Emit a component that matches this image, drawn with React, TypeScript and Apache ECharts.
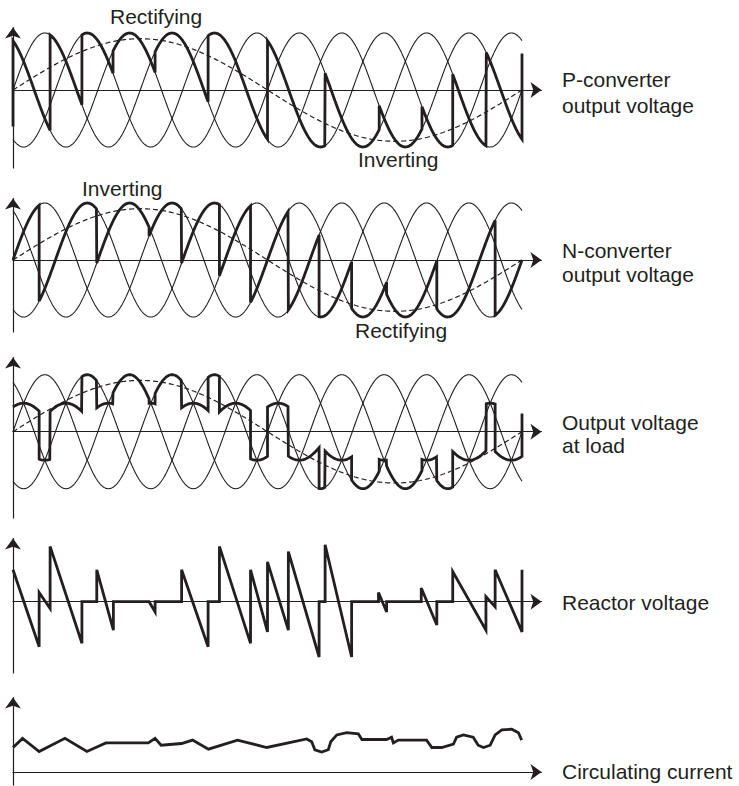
import React, { useEffect, useRef } from 'react';
import * as echarts from 'echarts';

const INK = '#231f20';
const FONT = '"Liberation Sans", Arial, Helvetica, sans-serif';

// ---------------- data ----------------
// x = supply angle in degrees: 4 supply cycles make one output cycle
const supplyEnd = 1440;
const phaseNames = ['a', 'b', 'c'];
const phaseShiftDeg = [0, -120, 120];
const referenceAmplitude = 0.9; // dashed desired output, one cycle across the plot

// P-converter: firing instants (deg) and the phase switched in
const pFiring = [0, 105, 195, 283, 402, 552, 720, 883, 1036, 1157, 1244, 1339];
const pPhase = ['c', 'a', 'b', 'c', 'a', 'b', 'c', 'a', 'b', 'c', 'a', 'b'];
const pStartFrom = -0.64;
const pEndTo = 0.64;

// N-converter: firing instants (deg) and the phase switched in
const nFiring = [0, 74, 237, 385, 477, 584, 672, 779, 866, 958, 1057, 1199, 1364];
const nPhase = ['a', 'b', 'c', 'a', 'b', 'c', 'a', 'b', 'c', 'a', 'b', 'c', 'a'];

// Reactor voltage (drawn as straight segments)
const reactorTheta = [0, 74, 74, 105, 105, 195, 195, 237, 237, 284, 284, 385, 402, 402, 477, 477, 552, 552, 584, 584, 672, 672, 720, 720, 779, 779, 866, 866, 883, 883, 958, 958, 1034, 1034, 1057, 1057, 1155, 1155, 1199, 1199, 1244, 1244, 1338, 1338, 1364, 1364, 1440, 1440];
const reactorValue = [0.56, -0.79, 0.16, -0.12, 0.97, -0.73, 0, 0, 0.56, -0.5, 0, 0, -0.18, 0, 0, 0.56, -0.79, 0, 0, 0.97, -0.73, 0.56, -0.53, 0.7, -0.5, 0.88, -0.97, 0, 0, 1.0, -0.97, 0, 0, 0.16, -0.18, 0, 0, 0.24, -0.41, 0, 0, 0.53, -0.5, 0.09, -0.09, 0.56, -0.53, 0.56];

// Circulating current
const currentTheta = [0, 27, 74, 147, 209, 263, 383, 402, 419, 477, 508, 553, 635, 718, 831, 845, 854, 873, 892, 899, 916, 944, 977, 987, 1057, 1071, 1076, 1090, 1170, 1185, 1213, 1246, 1255, 1274, 1302, 1316, 1331, 1350, 1364, 1383, 1411, 1430, 1439];
const currentValue = [0.43, 0.59, 0.36, 0.59, 0.36, 0.51, 0.51, 0.59, 0.47, 0.5, 0.56, 0.4, 0.56, 0.43, 0.58, 0.53, 0.39, 0.35, 0.39, 0.53, 0.65, 0.69, 0.67, 0.57, 0.57, 0.61, 0.51, 0.56, 0.56, 0.43, 0.43, 0.49, 0.61, 0.65, 0.61, 0.47, 0.43, 0.47, 0.65, 0.74, 0.75, 0.69, 0.56];

// Texts
const sideLabels = [
  ['P-converter', 'output voltage'],
  ['N-converter', 'output voltage'],
  ['Output voltage', 'at load'],
  ['Reactor voltage'],
  ['Circulating current'],
];
const modeLabels = ['Rectifying', 'Inverting', 'Inverting', 'Rectifying'];

// ---------------- layout (pixels) ----------------
const W = 739;
const H = 786;
const PX_PER_UNIT = 57;
const X0 = 13;
const X_DATA_END = 522;
const ARROW = [12, 11];
const X_AXIS_END = 547 - ARROW[1] / 2;
const panels = [
  { tip: 22, zero: 90, bottom: 168 },
  { tip: 193, zero: 260, bottom: 332 },
  { tip: 352, zero: 431.7, bottom: 518 },
  { tip: 533, zero: 601.7, bottom: 673 },
  { tip: 692, zero: 772, bottom: 785 },
];
const sideLabelY = [[79.4, 105.4], [250, 274.4], [422, 445.4], [602.7], [771]];
const modeLabelPos = [[110, 16], [358, 159], [82, 188], [355, 330]];

// ---------------- helpers ----------------
const RAD = Math.PI / 180;
function phaseValue(p: string, th: number) {
  return Math.sin((th + phaseShiftDeg[phaseNames.indexOf(p)]) * RAD);
}
function phaseAt(firing: number[], phases: string[], th: number) {
  let k = 0;
  for (let i = 0; i < firing.length; i++) if (firing[i] <= th) k = i;
  return phases[k];
}
function sinePts(p: string) {
  const out: number[][] = [];
  for (let th = 0; th <= supplyEnd; th += 2) out.push([th, phaseValue(p, th)]);
  return out;
}
function refPts() {
  const out: number[][] = [];
  for (let th = 0; th <= supplyEnd; th += 4) out.push([th, referenceAmplitude * Math.sin((th / 4) * RAD)]);
  return out;
}
function converterPts(firing: number[], phases: string[], startFrom?: number, endTo?: number) {
  const out: number[][] = [];
  if (startFrom !== undefined) out.push([firing[0], startFrom]);
  for (let i = 0; i < firing.length; i++) {
    const t0 = firing[i];
    const t1 = i + 1 < firing.length ? firing[i + 1] : supplyEnd;
    for (let th = t0; th < t1; th += 1) out.push([th, phaseValue(phases[i], th)]);
    out.push([t1, phaseValue(phases[i], t1)]);
  }
  if (endTo !== undefined) out.push([supplyEnd, endTo]);
  return out;
}
function loadPts() {
  const times = Array.from(new Set([...pFiring, ...nFiring])).sort((a, b) => a - b);
  const out: number[][] = [];
  for (let i = 0; i < times.length; i++) {
    const t0 = times[i];
    const t1 = i + 1 < times.length ? times[i + 1] : supplyEnd;
    const pp = phaseAt(pFiring, pPhase, t0);
    const np = phaseAt(nFiring, nPhase, t0);
    const v = (th: number) => (phaseValue(pp, th) + phaseValue(np, th)) / 2;
    for (let th = t0; th < t1; th += 1) out.push([th, v(th)]);
    out.push([t1, v(t1)]);
  }
  out.push([supplyEnd, (pEndTo + phaseValue(phaseAt(nFiring, nPhase, supplyEnd), supplyEnd)) / 2]);
  return out;
}
function zip(xs: number[], ys: number[]) {
  return xs.map((x, i) => [x, ys[i]]);
}

export default function App() {
  const ref = useRef<HTMLDivElement>(null);
  useEffect(() => {
    if (!ref.current) return;
    const chart = echarts.init(ref.current, null, { renderer: 'svg', width: W, height: H });
    const degPerPx = supplyEnd / (X_DATA_END - X0);
    const xMax = (X_AXIS_END - X0) * degPerPx;

    const grids: any[] = [];
    const xAxes: any[] = [];
    const yAxes: any[] = [];
    panels.forEach((p, i) => {
      const top = p.tip + ARROW[1] / 2;
      grids.push({ left: X0, top, width: X_AXIS_END - X0, height: p.bottom - top });
      xAxes.push({
        type: 'value', gridIndex: i, min: 0, max: xMax,
        axisLine: { onZero: true, symbol: ['none', 'arrow'], symbolSize: ARROW, lineStyle: { color: INK, width: 1.2 } },
        axisTick: { show: false }, axisLabel: { show: false }, splitLine: { show: false },
      });
      yAxes.push({
        type: 'value', gridIndex: i,
        min: -(p.bottom - p.zero) / PX_PER_UNIT, max: (p.zero - top) / PX_PER_UNIT,
        axisLine: { show: true, onZero: false, symbol: ['none', 'arrow'], symbolSize: ARROW, lineStyle: { color: INK, width: 1.2 } },
        axisTick: { show: false }, axisLabel: { show: false }, splitLine: { show: false },
      });
    });

    const series: any[] = [];
    const thin = (idx: number) => {
      phaseNames.forEach((ph) => {
        series.push({
          type: 'line', xAxisIndex: idx, yAxisIndex: idx, data: sinePts(ph), showSymbol: false, clip: false,
          lineStyle: { color: INK, width: 1.1 }, z: 2, silent: true,
        });
      });
      series.push({
        type: 'line', xAxisIndex: idx, yAxisIndex: idx, data: refPts(), showSymbol: false, clip: false,
        lineStyle: { color: INK, width: 1.2, type: [5, 3] }, z: 3, silent: true,
      });
    };
    const thick = (idx: number, data: number[][]) => {
      series.push({
        type: 'line', xAxisIndex: idx, yAxisIndex: idx, data, showSymbol: false, clip: false,
        lineStyle: { color: INK, width: 2.8, join: 'miter', miterLimit: 4 }, z: 4, silent: true,
      });
    };
    thin(0);
    thick(0, converterPts(pFiring, pPhase, pStartFrom, pEndTo));
    thin(1);
    thick(1, converterPts(nFiring, nPhase));
    thin(2);
    thick(2, loadPts());
    thick(3, zip(reactorTheta, reactorValue));
    thick(4, zip(currentTheta, currentValue));

    const graphic: any[] = [];
    sideLabels.forEach((lines, i) => {
      lines.forEach((t, j) => {
        graphic.push({
          type: 'text', x: 562, y: sideLabelY[i][j], silent: true,
          style: { text: t, fill: INK, font: `21px ${FONT}`, align: 'left', verticalAlign: 'middle', textAlign: 'left', textVerticalAlign: 'middle' },
        });
      });
    });
    modeLabels.forEach((t, i) => {
      graphic.push({
        type: 'text', x: modeLabelPos[i][0], y: modeLabelPos[i][1], silent: true,
        style: { text: t, fill: INK, font: `21px ${FONT}`, align: 'left', verticalAlign: 'middle', textAlign: 'left', textVerticalAlign: 'middle' },
      });
    });

    chart.setOption({
      animation: false,
      backgroundColor: '#ffffff',
      grid: grids,
      xAxis: xAxes,
      yAxis: yAxes,
      series,
      graphic,
    });
    return () => chart.dispose();
  }, []);
  return <div ref={ref} style={{ position: 'absolute', left: 0, top: 0, width: W, height: H, background: '#fff' }} />;
}
